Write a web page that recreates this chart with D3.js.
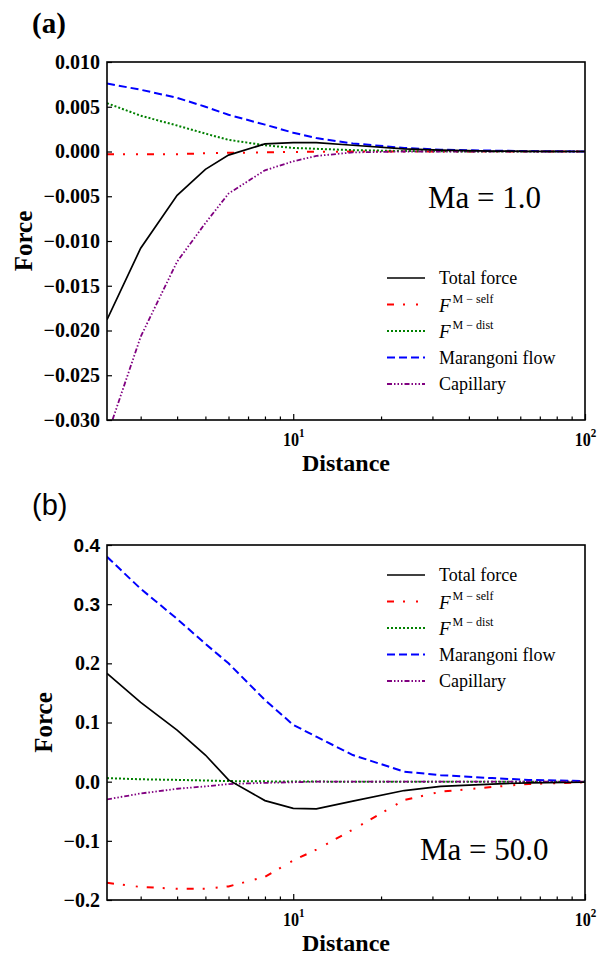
<!DOCTYPE html>
<html>
<head>
<meta charset="utf-8">
<script src="https://cdn.jsdelivr.net/npm/d3@7"></script>
<style>
  body { margin: 0; background: #fff; }
  svg { display: block; }
  .tick line { stroke: #000; stroke-width: 1.2; }
</style>
</head>
<body>
<div id="wrapper"></div>
<script>
// 1. Data
const distance = [2.3, 3, 4, 5, 6, 8, 10, 12, 16, 24, 32, 48, 64, 100];

// panel (a), Ma = 1.0
const totalA     = [-0.0188, -0.0108, -0.0049, -0.0020, -0.0004, 0.00085, 0.0010, 0.0010, 0.0007, 0.0003, 0.00015, 0.00005, 0.00002, 0];
const selfA      = [-0.0003, -0.0003, -0.0003, -0.0002, -0.00015, -0.0001, -0.00005, -0.00003, -0.00001, 0, 0, 0, 0, 0];
const distA      = [0.0054, 0.0040, 0.0029, 0.0020, 0.0013, 0.0007, 0.0004, 0.0003, 0.00015, 0.00005, 0.00002, 0, 0, 0];
const marangoniA = [0.0076, 0.0069, 0.0060, 0.0050, 0.0041, 0.0030, 0.0021, 0.0015, 0.0009, 0.0004, 0.0002, 0.0001, 0.00005, 0];
const capillaryA = [-0.0318, -0.0207, -0.0123, -0.0080, -0.0047, -0.0021, -0.0011, -0.0005, -0.0001, 0, 0, 0, 0, 0];

// panel (b), Ma = 50.0
const totalB     = [0.183, 0.134, 0.087, 0.045, 0.003, -0.032, -0.045, -0.046, -0.033, -0.015, -0.008, -0.004, -0.002, -0.001];
const selfB      = [-0.171, -0.178, -0.181, -0.181, -0.177, -0.161, -0.133, -0.115, -0.081, -0.031, -0.017, -0.009, -0.004, -0.001];
const distB      = [0.006, 0.004, 0.003, 0.002, 0.001, 0.0005, 0.0002, 0.0001, 0, 0, 0, 0, 0, 0];
const marangoniB = [0.380, 0.326, 0.275, 0.233, 0.200, 0.138, 0.096, 0.076, 0.045, 0.017, 0.011, 0.006, 0.003, 0.001];
const capillaryB = [-0.030, -0.020, -0.012, -0.008, -0.004, -0.002, -0.001, 0, 0, 0, 0, 0, 0, 0];

const legendLabels = ["Total force", "F^M \u2212 self", "F^M \u2212 dist", "Marangoni flow", "Capillary"];
const yTicksA = [-0.030, -0.025, -0.020, -0.015, -0.010, -0.005, 0.000, 0.005, 0.010];
const yTicksB = [-0.2, -0.1, 0.0, 0.1, 0.2, 0.3, 0.4];
const xMajor = [10, 100];
const xMajorLabels = [["10", "1"], ["10", "2"]];
const xMinor = [3, 4, 5, 6, 7, 8, 9, 20, 30, 40, 50, 60, 70, 80, 90];

// line styles for the five series, same order as legendLabels
const styles = [
  { color: "#000000", width: 1.7, dash: null },
  { color: "#ff0000", width: 2, dash: "7,9,2,11,2,9" },
  { color: "#008000", width: 2, dash: "2,2" },
  { color: "#0000ff", width: 2, dash: "8,4" },
  { color: "#800080", width: 1.8, dash: "5,2,1.5,2,1.5,2,1.5,2" },
];

const serif = "'Liberation Serif', 'Times New Roman', serif";
const sans = "'Liberation Sans', Arial, sans-serif";

function boldSerif(sel, size) {
  return sel
    .attr("fill", "#000")
    .style("font-family", serif)
    .style("font-weight", "bold")
    .style("font-size", size);
}

// 2. Canvas
const svg = d3.select("#wrapper")
  .append("svg")
  .attr("width", 608)
  .attr("height", 957);

function drawPanel(cfg) {
  const dims = { left: 107, right: 585, top: cfg.top, bottom: cfg.bottom };

  // scales
  const xScale = d3.scaleLog()
    .domain([distance[0], 100])
    .range([dims.left, dims.right]);

  const yScale = d3.scaleLinear()
    .domain(cfg.yDomain)
    .range([dims.bottom, dims.top]);

  const g = svg.append("g");

  g.append("clipPath").attr("id", "clip-" + cfg.id)
    .append("rect")
    .attr("x", dims.left).attr("y", dims.top)
    .attr("width", dims.right - dims.left)
    .attr("height", dims.bottom - dims.top);

  // lines
  const lineGenerator = d3.line()
    .x(d => xScale(d[0]))
    .y(d => yScale(d[1]));

  const plotOrder = [1, 2, 3, 4, 0];
  plotOrder.forEach(i => {
    const pts = distance.map((d, j) => [d, cfg.series[i][j]]);
    g.append("path")
      .attr("clip-path", `url(#clip-${cfg.id})`)
      .attr("d", lineGenerator(pts))
      .attr("fill", "none")
      .attr("stroke", styles[i].color)
      .attr("stroke-width", styles[i].width)
      .attr("stroke-dasharray", styles[i].dash);
  });

  // axes
  const xAxis = g.append("g")
    .attr("transform", `translate(0,${dims.bottom})`)
    .call(d3.axisBottom(xScale).tickValues(xMajor).tickSizeInner(-6).tickSizeOuter(0).tickFormat(""));
  xAxis.select(".domain").remove();

  xAxis.selectAll(".tick").each(function (d, i) {
    const t = d3.select(this).append("text")
      .attr("y", 26)
      .attr("text-anchor", "middle")
      .attr("transform", "scale(0.85,1)");
    boldSerif(t, "19px");
    t.append("tspan").text(xMajorLabels[i][0]);
    t.append("tspan").attr("dy", -9).style("font-size", "13px").text(xMajorLabels[i][1]);
  });

  const xMinorAxis = g.append("g")
    .attr("transform", `translate(0,${dims.bottom})`)
    .call(d3.axisBottom(xScale).tickValues(xMinor).tickSizeInner(-3.5).tickSizeOuter(0).tickFormat(""));
  xMinorAxis.select(".domain").remove();

  const yAxis = g.append("g")
    .attr("transform", `translate(${dims.left},0)`)
    .call(d3.axisLeft(yScale).tickValues(cfg.yTicks).tickSizeInner(-5).tickSizeOuter(0)
      .tickPadding(7).tickFormat(d3.format(cfg.fmt)));
  yAxis.select(".domain").remove();
  yAxis.selectAll("text").each(function (d) {
    const t = d3.select(this);
    if (cfg.sansTicks.includes(d)) {
      t.attr("fill", "#000")
        .style("font-family", sans)
        .style("font-weight", "bold")
        .style("font-size", "19px");
    } else {
      boldSerif(t, "20px");
    }
  });

  // frame
  g.append("rect")
    .attr("x", dims.left).attr("y", dims.top)
    .attr("width", dims.right - dims.left)
    .attr("height", dims.bottom - dims.top)
    .attr("fill", "none")
    .attr("stroke", "#000")
    .attr("stroke-width", 1.6);

  // labels
  boldSerif(g.append("text")
    .attr("x", (dims.left + dims.right) / 2)
    .attr("y", dims.bottom + 51)
    .attr("text-anchor", "middle"), "24px")
    .text("Distance");

  boldSerif(g.append("text")
    .attr("transform", `translate(${cfg.yLabelX},${(dims.top + dims.bottom) / 2}) rotate(-90)`)
    .attr("text-anchor", "middle"), "25px")
    .text("Force");

  const panelText = g.append("text")
    .attr("x", 32).attr("y", cfg.panelLabelY)
    .text(cfg.panelLabel);
  if (cfg.panelFont === "serif") {
    boldSerif(panelText, "29px");
  } else {
    panelText.style("font-family", sans).style("font-size", "29px");
  }

  g.append("text")
    .attr("x", cfg.maX).attr("y", cfg.maY)
    .style("font-family", serif)
    .style("font-size", "31px")
    .text(cfg.maText);

  // legend
  const legend = g.append("g");
  legendLabels.forEach((label, i) => {
    const ly = cfg.legendTop + i * 26.5;
    legend.append("line")
      .attr("x1", 387).attr("x2", 425)
      .attr("y1", ly).attr("y2", ly)
      .attr("stroke", styles[i].color)
      .attr("stroke-width", styles[i].width)
      .attr("stroke-dasharray", styles[i].dash);
    const txt = legend.append("text")
      .attr("x", 439)
      .attr("y", ly + 6)
      .style("font-family", serif)
      .style("font-size", "18px");
    if (label.includes("^")) {
      const [base, sup] = label.split("^");
      txt.attr("y", ly + 7);
      txt.append("tspan").style("font-style", "italic").style("font-size", "19px").text(base);
      txt.append("tspan").attr("dx", 2).attr("dy", -9).style("font-size", "12px").text(sup);
    } else {
      txt.text(label);
    }
  });
}

drawPanel({
  id: "a", top: 62, bottom: 420,
  yDomain: [-0.030, 0.010], yTicks: yTicksA, fmt: ".3f", sansTicks: [],
  series: [totalA, selfA, distA, marangoniA, capillaryA],
  yLabelX: 32, panelLabel: "(a)", panelLabelY: 33, panelFont: "serif",
  maText: "Ma = 1.0", maX: 428, maY: 208, legendTop: 278,
});

drawPanel({
  id: "b", top: 545, bottom: 900,
  yDomain: [-0.2, 0.4], yTicks: yTicksB, fmt: ".1f", sansTicks: [0.3, 0.4],
  series: [totalB, selfB, distB, marangoniB, capillaryB],
  yLabelX: 52, panelLabel: "(b)", panelLabelY: 515, panelFont: "sans",
  maText: "Ma = 50.0", maX: 420, maY: 860, legendTop: 575,
});
</script>
</body>
</html>
